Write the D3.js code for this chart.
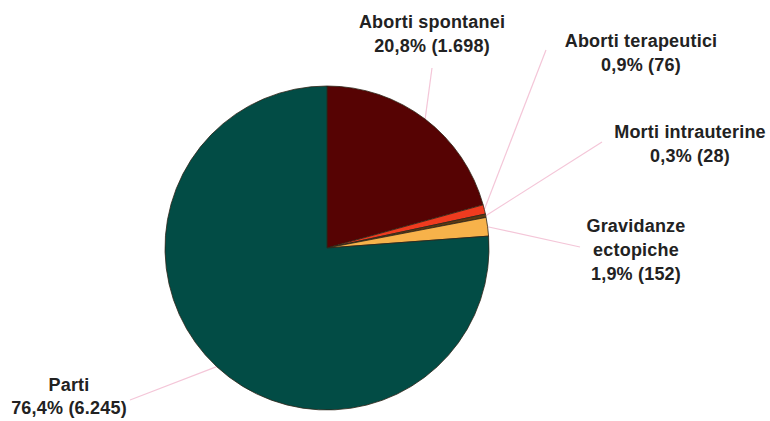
<!DOCTYPE html>
<html>
  <head>
    <script src="https://d3js.org/d3.v7.min.js"></script>
    <style>
      html, body { margin: 0; padding: 0; background: #fff; overflow: hidden; }
      .label { font: bold 18px "Liberation Sans", Arial, sans-serif; fill: #222; letter-spacing: 0.2px; }
      .leader { fill: none; stroke: #f4c6d8; stroke-width: 1.2px; }
    </style>
  </head>
  <body>
    <div id="chart"></div>
    <script>
      // data
      const categories = ["Aborti spontanei", "Aborti terapeutici", "Morti intrauterine", "Gravidanze ectopiche", "Parti"];
      const counts = [1698, 76, 28, 152, 6245];
      const percentLabels = ["20,8%", "0,9%", "0,3%", "1,9%", "76,4%"];
      const countLabels = ["1.698", "76", "28", "152", "6.245"];
      const nameLines = [["Aborti spontanei"], ["Aborti terapeutici"], ["Morti intrauterine"], ["Gravidanze", "ectopiche"], ["Parti"]];

      const colors = ["#560303", "#ef3b1f", "#5b3a12", "#f7b24a", "#024c45"];

      // label layout (anchor = end of leader line, text block centre/baseline)
      const layout = [
        { lx: 432, ly: 68, tx: 432, ty: 28 },
        { lx: 546, ly: 50, tx: 641, ty: 47 },
        { lx: 602, ly: 142, tx: 690, ty: 138 },
        { lx: 580, ly: 247, tx: 636, ty: 232 },
        { lx: 130, ly: 400, tx: 69, ty: 391 }
      ];

      const width = 770, height = 421;
      const cx = 327, cy = 248, r = 162;

      const svg = d3.select("#chart").append("svg")
        .attr("width", width).attr("height", height);

      const g = svg.append("g").attr("transform", `translate(${cx},${cy})`);

      const pie = d3.pie().sort(null).value(d => d)(counts);
      const arc = d3.arc().innerRadius(0).outerRadius(r);
      const edge = d3.arc().innerRadius(r).outerRadius(r);

      // leader lines underneath the pie
      g.selectAll("line.leader")
        .data(pie)
        .enter().append("line")
        .attr("class", "leader")
        .attr("x1", d => edge.centroid(d)[0])
        .attr("y1", d => edge.centroid(d)[1])
        .attr("x2", (d, i) => layout[i].lx - cx)
        .attr("y2", (d, i) => layout[i].ly - cy);

      g.selectAll("path.slice")
        .data(pie)
        .enter().append("path")
        .attr("class", "slice")
        .attr("d", arc)
        .attr("fill", (d, i) => colors[i])
        .attr("stroke", "#2e2418")
        .attr("stroke-width", 0.8);

      // labels
      categories.forEach((c, i) => {
        const lh = i === 4 ? 23 : 24;
        const lines = nameLines[i].concat([`${percentLabels[i]} (${countLabels[i]})`]);
        const t = svg.append("text")
          .attr("class", "label")
          .attr("text-anchor", "middle")
          .attr("x", layout[i].tx)
          .attr("y", layout[i].ty);
        lines.forEach((s, k) => {
          t.append("tspan")
            .attr("x", layout[i].tx)
            .attr("dy", k === 0 ? 0 : lh)
            .text(s);
        });
      });
    </script>
  </body>
</html>
